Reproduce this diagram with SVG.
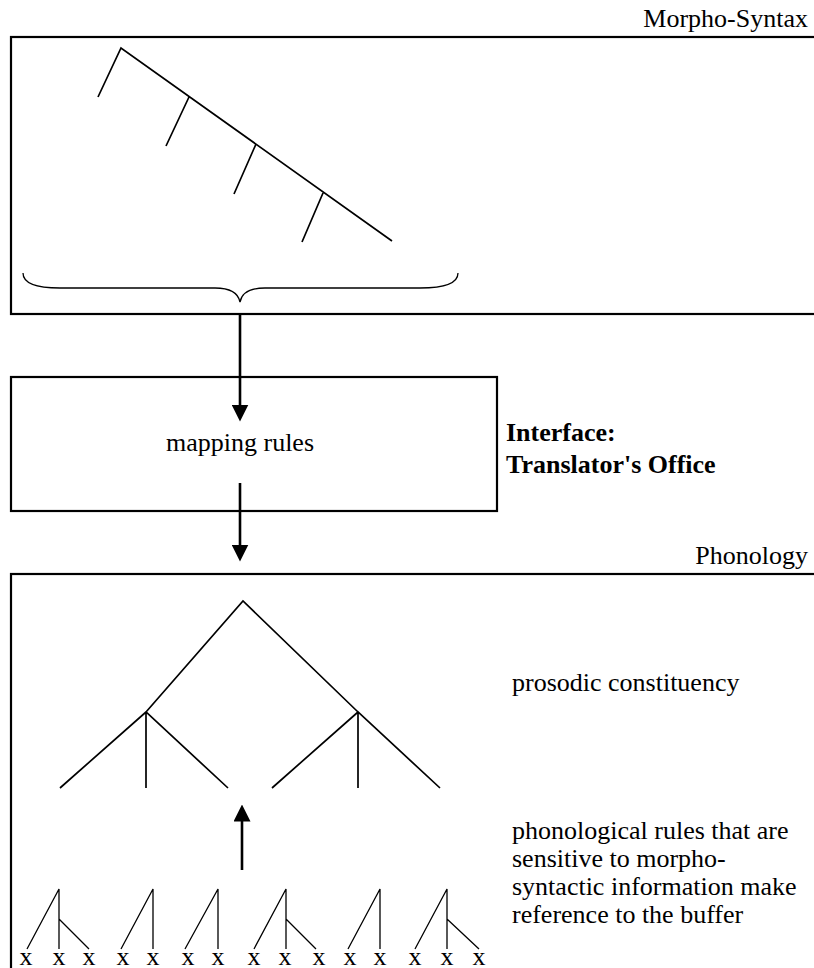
<svg xmlns="http://www.w3.org/2000/svg" width="814" height="968" viewBox="0 0 814 968">
  <style>
    .lbl { font-family: "Liberation Serif", "Times New Roman", serif; font-size: 26px; fill: #000; }
    .bold { font-weight: bold; }
    .frame { fill: none; stroke: #000; stroke-width: 2.2; }
    .tree { fill: none; stroke: #000; stroke-width: 1.7; stroke-linecap: butt; }
    .thin { fill: none; stroke: #000; stroke-width: 1.3; }
    .arrow { fill: none; stroke: #000; stroke-width: 2.6; }
  </style>
  <defs>
    <marker id="ah" viewBox="0 0 16 16" refX="8" refY="8" markerWidth="17" markerHeight="17" orient="auto" markerUnits="userSpaceOnUse">
      <path d="M0,0 L16,8 L0,16 Z" fill="#000"/>
    </marker>
  </defs>
  <rect width="814" height="968" fill="#fff"/>

  <!-- Morpho-syntax module -->
  <g id="morpho-syntax">
    <text class="lbl" x="808" y="27" text-anchor="end">Morpho-Syntax</text>
    <rect class="frame" x="11" y="37" width="820" height="277"/>
    <!-- right-branching syntactic tree -->
    <path class="tree" d="M98,97 L121,48 L392,241 M189,97 L166,146 M256,144 L234,194 M323,193 L302,242"/>
    <!-- brace gathering the structure -->
    <path class="thin" d="M23,273 C23,283 35,288 60,288 L215,288 C230,288 238,292 240,302 C242,292 250,288 265,288 L420,288 C445,288 458,283 458,273"/>
  </g>

  <!-- Interface box -->
  <g id="interface">
    <rect class="frame" x="11" y="377" width="486" height="134"/>
    <text class="lbl" x="240" y="451" text-anchor="middle">mapping rules</text>
    <text class="lbl bold" x="506" y="441">Interface:</text>
    <text class="lbl bold" x="506" y="473">Translator's Office</text>
  </g>

  <!-- Phonology module -->
  <g id="phonology">
    <text class="lbl" x="808" y="564" text-anchor="end">Phonology</text>
    <rect class="frame" x="11" y="574" width="820" height="420"/>
    <!-- prosodic constituency tree -->
    <path class="tree" d="M146,712 L243,601 L358,712 M60,788 L146,712 L228,788 M146,712 L146,788 M272,788 L358,712 L440,788 M358,712 L358,788"/>
    <text class="lbl" x="512" y="691">prosodic constituency</text>
    <text class="lbl" x="512" y="839">phonological rules that are</text>
    <text class="lbl" x="512" y="867">sensitive to morpho-</text>
    <text class="lbl" x="512" y="895">syntactic information make</text>
    <text class="lbl" x="512" y="923">reference to the buffer</text>
  </g>

  <!-- Buffer: morpho-syntactic sub-trees over skeletal positions -->
  <g id="buffer">
    <path class="thin" d="M27,949 L59,889 L59,949 M59,919 L89,949"/>
    <path class="thin" d="M121,949 L153,889 L153,949"/>
    <path class="thin" d="M185,949 L218,889 L218,949"/>
    <path class="thin" d="M254,949 L286,889 L286,949 M286,919 L316,949"/>
    <path class="thin" d="M348,949 L380,889 L380,949"/>
    <path class="thin" d="M415,949 L447,889 L447,949 M447,919 L479,949"/>
    <g class="lbl" text-anchor="middle">
      <text x="26" y="965">x</text>
      <text x="59" y="965">x</text>
      <text x="89" y="965">x</text>
      <text x="123" y="965">x</text>
      <text x="153" y="965">x</text>
      <text x="188" y="965">x</text>
      <text x="218" y="965">x</text>
      <text x="254" y="965">x</text>
      <text x="285" y="965">x</text>
      <text x="319" y="965">x</text>
      <text x="350" y="965">x</text>
      <text x="380" y="965">x</text>
      <text x="415" y="965">x</text>
      <text x="447" y="965">x</text>
      <text x="479" y="965">x</text>
    </g>
  </g>

  <!-- Connectors -->
  <g id="connectors">
    <line class="arrow" x1="240" y1="314" x2="240" y2="413" marker-end="url(#ah)"/>
    <line class="arrow" x1="240" y1="483" x2="240" y2="553" marker-end="url(#ah)"/>
    <line class="arrow" x1="242" y1="870" x2="242" y2="813" marker-end="url(#ah)"/>
  </g>
</svg>
